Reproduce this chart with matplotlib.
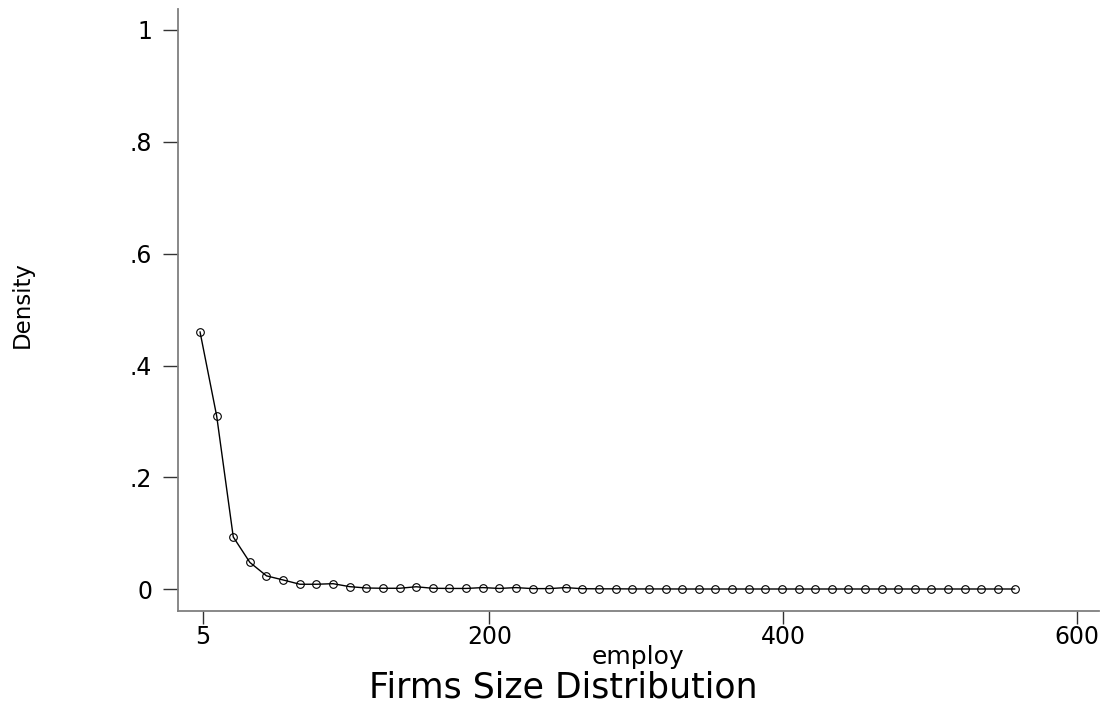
"""
Firms size distribution: density of employment by size bin (Stata-style plot).
"""

import matplotlib
matplotlib.use("Agg")
import matplotlib.pyplot as plt

OUTPUT = "out.png"

# bin centres (employ) and density
EMPLOY = [3.2, 14.5, 25.8, 37.1, 48.4, 59.8, 71.1, 82.4, 93.7, 105.0,
          116.3, 127.6, 138.9, 150.2, 161.5, 172.9, 184.2, 195.5, 206.8, 218.1,
          229.4, 240.7, 252.0, 263.3, 274.6, 286.0, 297.3, 308.6, 319.9, 331.2,
          342.5, 353.8, 365.1, 376.4, 387.7, 399.1, 410.4, 421.7, 433.0, 444.3,
          455.6, 466.9, 478.2, 489.5, 500.8, 512.2, 523.5, 534.8, 546.1, 557.4]
DENSITY = [0.460, 0.310, 0.0935, 0.048, 0.024, 0.0166, 0.009, 0.009, 0.010, 0.0047,
           0.0023, 0.0018, 0.0018, 0.0045, 0.0018, 0.0015, 0.0015, 0.003, 0.0015, 0.003,
           0.0012, 0.0012, 0.003, 0.001, 0.0008, 0.0008, 0.0006, 0.0006, 0.0006, 0.0005,
           0.0005, 0.0005, 0.0005, 0.0005, 0.0005, 0.0005, 0.0005, 0.0005, 0.0005, 0.0005,
           0.0005, 0.0005, 0.0005, 0.0005, 0.0005, 0.0005, 0.0005, 0.0005, 0.0005, 0.0005]

X_TICKS = [5, 200, 400, 600]
Y_TICKS = [0, 0.2, 0.4, 0.6, 0.8, 1]
Y_TICK_LABELS = ["0", ".2", ".4", ".6", ".8", "1"]

# wider sans face to get close to the stretched Helvetica of the original
plt.rcParams["font.family"] = ["DejaVu Sans"]

fig = plt.figure(figsize=(11.04, 7.13), dpi=100)
ax = fig.add_axes([178.3 / 1104, 102.3 / 713, (1099 - 178.3) / 1104, (610.7 - 9.3) / 713])

ax.plot(EMPLOY, DENSITY, "-", color="black", linewidth=1.0,
        marker="o", markersize=5.5, markerfacecolor="none",
        markeredgecolor="black", markeredgewidth=0.8)

ax.set_xlim(-11.6, 614.8)
ax.set_ylim(-0.0383, 1.037)
ax.set_xticks(X_TICKS)
ax.set_yticks(Y_TICKS)
ax.set_yticklabels(Y_TICK_LABELS)

for side in ("top", "right"):
    ax.spines[side].set_visible(False)
for side in ("left", "bottom"):
    ax.spines[side].set_color("#7f7f7f")
    ax.spines[side].set_linewidth(1.3)

ax.tick_params(axis="x", length=9, width=1, color="#333333", labelsize=17, pad=1)
ax.tick_params(axis="y", length=10.8, width=1, color="#333333", labelsize=17, pad=8)

fig.text(638 / 1104, 1 - 664 / 713, "employ", ha="center", va="baseline", fontsize=18)
fig.text(563 / 1104, 1 - 698 / 713, "Firms Size Distribution", ha="center",
         va="baseline", fontsize=25)
fig.text(22 / 1104, 1 - 305 / 713, "Density", ha="center", va="center",
         rotation=90, fontsize=16.5)

fig.savefig(OUTPUT, dpi=100)
